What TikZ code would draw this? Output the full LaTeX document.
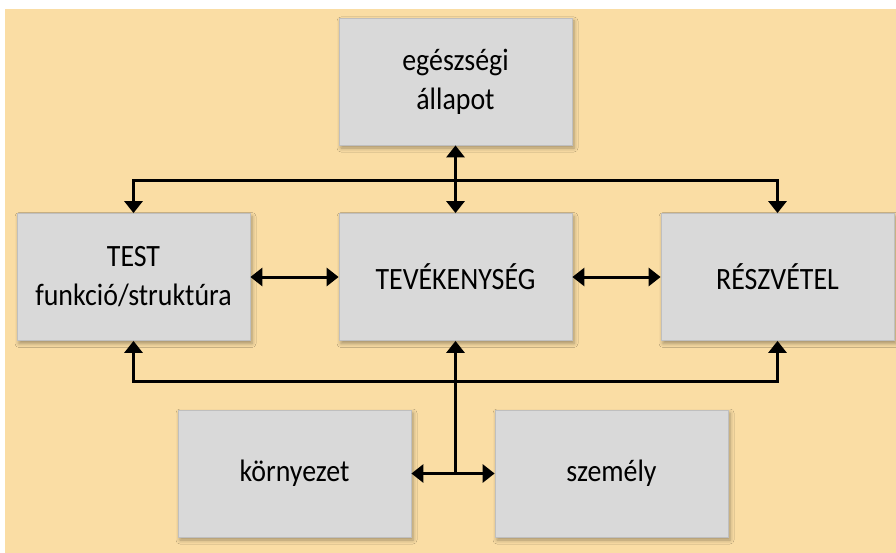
\documentclass[tikz,border=0pt]{standalone}
\usepackage{fontspec}
\setmainfont{Carlito}[FakeStretch=0.9]
\usetikzlibrary{arrows.meta,shadows.blur}
\definecolor{bgcol}{HTML}{FADDA4}
\definecolor{boxfill}{HTML}{D9D9D9}
\definecolor{boxline}{HTML}{BFBFBF}
\begin{document}
\begin{tikzpicture}[x=1pt,y=-1pt,
  box/.style={draw=boxline, line width=0.8pt, fill=boxfill, minimum width=233pt, minimum height=127pt,
    inner sep=0pt, align=center, font=\fontsize{31}{39}\selectfont,
    blur shadow={shadow xshift=2pt, shadow yshift=-3pt, shadow blur radius=4pt, shadow opacity=35}},
  conn/.style={line width=3pt, {Triangle[width=18pt,length=12pt]}-{Triangle[width=18pt,length=12pt]}},
  conn1/.style={line width=3pt, -{Triangle[width=18pt,length=12pt]}}]
\useasboundingbox (0,0) rectangle (896,553);
\fill[white] (0,0) rectangle (896,553);
\fill[bgcol] (5,9) rectangle (896,553);
\node[box] (top) at (455.5,81.5) {egészségi\\állapot};
\node[box] (test) at (133.5,277) {TEST\\funkció/struktúra};
\node[box] (tev) at (455.5,277) {TEVÉKENYSÉG};
\node[box] (resz) at (777.5,277) {RÉSZVÉTEL};
\node[box] (korny) at (294.5,473.5) {környezet};
\node[box] (szem) at (611.5,473.5) {személy};
\coordinate (junc) at (455.5,473.5);
\draw[conn] (top.south) -- (tev.north);
\draw[conn] (test.north) -- ++(0,-33) -| (resz.north);
\draw[conn] (test.south) -- ++(0,41) -| (resz.south);
\draw[conn] (test.east) -- (tev.west);
\draw[conn] (tev.east) -- (resz.west);
\draw[conn] (korny.east) -- (szem.west);
\draw[conn1] (junc) -- (tev.south);
\end{tikzpicture}
\end{document}
